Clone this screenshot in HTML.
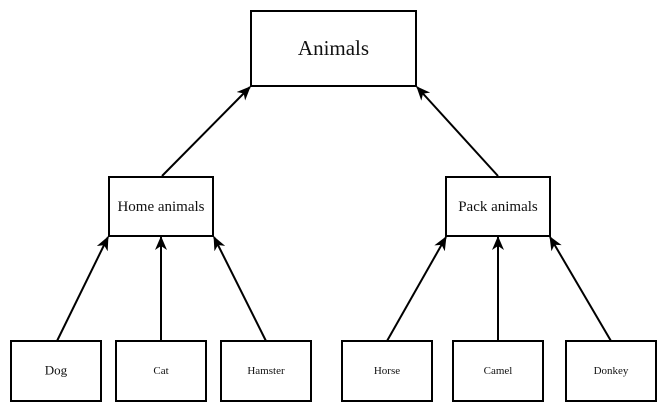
<!DOCTYPE html>
<html><head><meta charset="utf-8"><style>
body{margin:0;background:#fff;width:667px;height:412px;overflow:hidden}
svg text{font-family:"Liberation Serif",serif;fill:#111;text-anchor:middle;dominant-baseline:central}
</style></head><body>
<svg width="667" height="412">
<defs><marker id="ah" markerWidth="14" markerHeight="12" refX="13" refY="6" orient="auto" markerUnits="userSpaceOnUse"><path d="M0,0 L14,6 L0,12 L4,6 Z" fill="#000"/></marker></defs>
<g stroke="#000" stroke-width="2" fill="none" marker-end="url(#ah)">
<line x1="162" y1="176" x2="250" y2="87"/>
<line x1="498" y1="176" x2="417" y2="87"/>
<line x1="57" y1="341" x2="108" y2="237"/>
<line x1="161" y1="341" x2="161" y2="237"/>
<line x1="266" y1="341" x2="214" y2="237"/>
<line x1="387" y1="341" x2="446" y2="237"/>
<line x1="498" y1="341" x2="498" y2="237"/>
<line x1="611" y1="341" x2="550" y2="237"/>
</g>
<g stroke="#000" stroke-width="2" fill="#fff">
<rect x="251" y="11" width="165" height="75"/>
<rect x="109" y="177" width="104" height="59"/>
<rect x="446" y="177" width="104" height="59"/>
<rect x="11" y="341" width="90" height="60"/>
<rect x="116" y="341" width="90" height="60"/>
<rect x="221" y="341" width="90" height="60"/>
<rect x="342" y="341" width="90" height="60"/>
<rect x="453" y="341" width="90" height="60"/>
<rect x="566" y="341" width="90" height="60"/>
</g>
<text x="333.5" y="48" font-size="21">Animals</text>
<text x="161" y="207" font-size="15">Home animals</text>
<text x="498" y="207" font-size="15">Pack animals</text>
<text x="56" y="370" font-size="13">Dog</text>
<text x="161" y="371" font-size="11">Cat</text>
<text x="266" y="371" font-size="11">Hamster</text>
<text x="387" y="371" font-size="11">Horse</text>
<text x="498" y="371" font-size="11">Camel</text>
<text x="611" y="371" font-size="11">Donkey</text>
</svg>
</body></html>
